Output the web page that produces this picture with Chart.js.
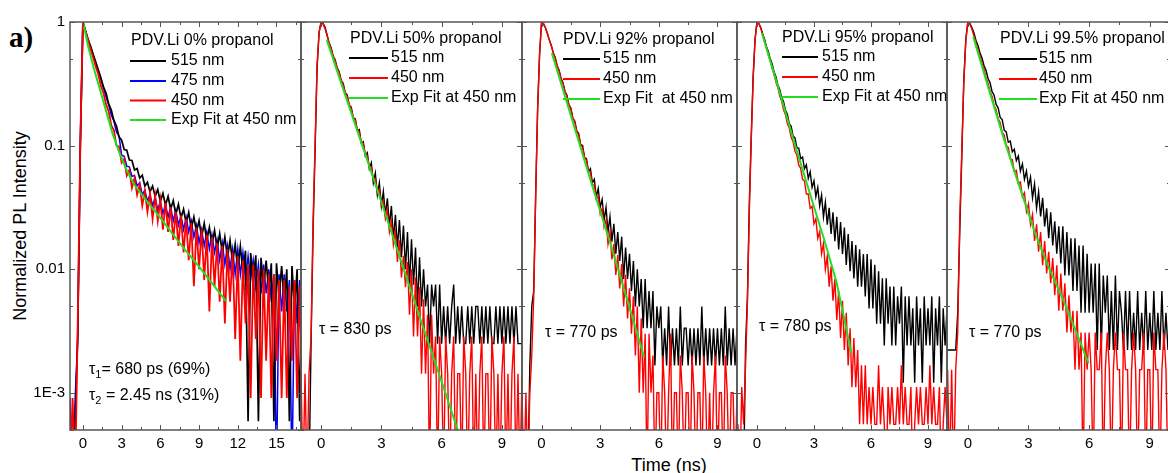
<!DOCTYPE html>
<html>
<head>
<meta charset="utf-8">
<script src="https://cdn.jsdelivr.net/npm/chart.js@4.4.0/dist/chart.umd.min.js"></script>
<style>
  html, body { margin: 0; padding: 0; background: #fff; overflow: hidden; }
  #wrap { position: relative; width: 1168px; height: 473px; overflow: hidden; background: #fff; }
  #wrap canvas { position: absolute; left: 0; top: 0; }
  .lbl { position: absolute; white-space: nowrap; color: #000; font-family: "Liberation Sans", Arial, sans-serif; }
</style>
</head>
<body>
<div id="wrap">
  <div class="lbl" style="left:9px;top:23px;font:bold 29px 'Liberation Serif', serif;line-height:29px;">a)</div>
  <div class="lbl" style="left:20px;top:226px;font-size:18px;transform:translate(-50%,-50%) rotate(-90deg);">Normalized PL Intensity</div>
  <div class="lbl" style="left:669px;top:465px;font-size:18px;transform:translate(-50%,-50%);">Time (ns)</div>
</div>
<script>
const FONT = '"Liberation Sans", Arial, sans-serif';

// ---- data: photon counts per time channel ----
// (each trace is normalised by its own peak count)
const yTicks = [0.001, 0.01, 0.1, 1];
const yMinorTicks = [0.0005, 0.005, 0.05, 0.5];
const xTicks17 = [0, 3, 6, 9, 12, 15];
const xMinor17 = [1.5, 4.5, 7.5, 10.5, 13.5, 16.5];
const xTicks10 = [0, 3, 6, 9];
const xMinor10 = [1.5, 4.5, 7.5];

// panel 1: PDV.Li 0% propanol
const p1Time = [-1.0, -0.8, -0.6, -0.4, -0.2, 0, 0.2, 0.4, 0.6, 0.8,
  1.0, 1.2, 1.4, 1.6, 1.8, 2.0, 2.2, 2.4, 2.6, 2.8,
  3.0, 3.2, 3.4, 3.6, 3.8, 4.0, 4.2, 4.4, 4.6, 4.8,
  5.0, 5.2, 5.4, 5.6, 5.8, 6.0, 6.2, 6.4, 6.6, 6.8,
  7.0, 7.2, 7.4, 7.6, 7.8, 8.0, 8.2, 8.4, 8.6, 8.8,
  9.0, 9.2, 9.4, 9.6, 9.8, 10.0, 10.2, 10.4, 10.6, 10.8,
  11.0, 11.2, 11.4, 11.6, 11.8, 12.0, 12.2, 12.4, 12.6, 12.8,
  13.0, 13.2, 13.4, 13.6, 13.8, 14.0, 14.2, 14.4, 14.6, 14.8,
  15.0, 15.2, 15.4, 15.6, 15.8, 16.0, 16.2, 16.4, 16.6, 16.8,
  17.0];
const p1Peak515 = 1700, p1Peak475 = 1100, p1Peak450 = 1100;
const p1Counts515 = [0, 0, 1, 5, 170, 1700, 1450, 1230, 1080, 925,
  805, 690, 600, 505, 450, 368, 330, 272, 245, 200,
  188, 158, 156, 130, 129, 108, 111, 93, 98, 80,
  86, 72, 80, 66, 75, 60, 70, 56, 66, 52,
  61, 47, 57, 44, 52, 40, 49, 36, 45, 34,
  42, 31, 40, 29, 37, 27, 35, 25, 33, 23,
  31, 21, 29, 19, 27, 17, 26, 16, 24, 1,
  23, 14, 22, 1, 21, 12, 20, 11, 19, 1,
  19, 10, 18, 9, 17, 1, 18, 8, 17, 1,
  16];
const p1Counts475 = [1, 0, 1, 3, 110, 1100, 930, 795, 676, 598,
  500, 445, 370, 322, 270, 235, 194, 174, 142, 131,
  92, 90, 75, 74, 62, 63, 52, 55, 44, 48,
  39, 44, 36, 42, 33, 39, 31, 37, 29, 35,
  27, 33, 25, 30, 23, 29, 22, 27, 20, 25,
  18, 23, 17, 22, 16, 21, 15, 19, 13, 18,
  12, 17, 11, 16, 10, 16, 10, 15, 9, 14,
  9, 13, 8, 12, 7, 12, 7, 11, 6, 10,
  0, 10, 5, 10, 5, 9, 0, 9, 4, 9,
  4];
const p1Counts450 = [0, 1, 0, 4, 120, 1100, 920, 785, 655, 566,
  478, 412, 333, 292, 236, 208, 160, 147, 110, 108,
  80, 86, 63, 70, 50, 60, 44, 53, 36, 47,
  32, 45, 28, 43, 27, 40, 23, 38, 22, 35,
  19, 32, 17, 30, 15, 28, 13, 26, 8, 24,
  11, 23, 9, 21, 5, 20, 8, 18, 6, 17,
  4, 16, 6, 15, 3, 14, 2, 13, 4, 12,
  1, 12, 3, 11, 1, 11, 2, 10, 1, 10,
  2, 9, 1, 9, 1, 8, 2, 9, 1, 8,
  1];
const p1FitTime = [0.05, 0.4, 0.85, 1.3, 1.8, 2.3, 2.8, 3.4, 4.0, 5.0, 6.0, 7.0, 8.0, 9.0, 10.0, 11.1];
const p1Fit = [0.96, 0.64, 0.42, 0.29, 0.19, 0.125, 0.089, 0.063, 0.048, 0.035, 0.026, 0.019, 0.014, 0.0105, 0.0077, 0.0055];

// time channels shared by panels 2-5 (ns)
const tTime = [-1.0, -0.9, -0.8, -0.7, -0.6, -0.5, -0.4, -0.3, -0.2, -0.1,
  0, 0.1, 0.2, 0.3, 0.4, 0.5, 0.6, 0.7, 0.8, 0.9,
  1.0, 1.1, 1.2, 1.3, 1.4, 1.5, 1.6, 1.7, 1.8, 1.9,
  2.0, 2.1, 2.2, 2.3, 2.4, 2.5, 2.6, 2.7, 2.8, 2.9,
  3.0, 3.1, 3.2, 3.3, 3.4, 3.5, 3.6, 3.7, 3.8, 3.9,
  4.0, 4.1, 4.2, 4.3, 4.4, 4.5, 4.6, 4.7, 4.8, 4.9,
  5.0, 5.1, 5.2, 5.3, 5.4, 5.5, 5.6, 5.7, 5.8, 5.9,
  6.0, 6.1, 6.2, 6.3, 6.4, 6.5, 6.6, 6.7, 6.8, 6.9,
  7.0, 7.1, 7.2, 7.3, 7.4, 7.5, 7.6, 7.7, 7.8, 7.9,
  8.0, 8.1, 8.2, 8.3, 8.4, 8.5, 8.6, 8.7, 8.8, 8.9,
  9.0, 9.1, 9.2, 9.3, 9.4, 9.5, 9.6, 9.7, 9.8, 9.9,
  10.0];

// panel 2: 50% propanol
const p2Peak515 = 400, p2Peak450 = 700;
const p2Counts515 = [0, 0, 0, 0, 0, 1, 8, 36, 168, 330,
  400, 390, 362, 315, 270, 248, 212, 198, 170, 158,
  135, 128, 107, 103, 85, 82, 67, 66, 53, 54,
  42, 43, 33, 35, 26, 29, 20, 24, 16, 20,
  13, 17, 11, 15, 9, 13, 7, 11, 6, 10,
  5, 9, 4, 8, 3, 7, 3, 6, 2, 5,
  2, 4, 2, 3, 1, 3, 2, 3, 1, 3,
  1, 2, 1, 2, 1, 2, 3, 1, 2, 1,
  2, 1, 1, 2, 1, 2, 1, 2, 2, 1,
  2, 1, 2, 1, 2, 1, 1, 2, 1, 2,
  1, 2, 1, 2, 1, 2, 1, 2, 1, 1,
  1];
const p2Counts450 = [1, 0, 1, 0, 1, 2, 17, 70, 315, 574,
  700, 672, 616, 539, 469, 425, 370, 340, 296, 272,
  236, 218, 188, 175, 150, 140, 118, 112, 95, 90,
  75, 73, 60, 58, 47, 47, 37, 38, 29, 31,
  23, 25, 18, 21, 14, 17, 11, 14, 8, 12,
  6, 9, 5, 8, 3, 7, 2, 6, 2, 5,
  1, 4, 1, 3, 0, 3, 1, 2, 0, 2,
  1, 0, 2, 1, 0, 1, 2, 0, 1, 1,
  0, 2, 1, 0, 1, 2, 0, 1, 0, 1,
  2, 0, 1, 1, 0, 2, 1, 0, 1, 0,
  1, 2, 0, 1, 0, 1, 2, 0, 1, 0,
  1];
const p2FitTime = [0.28, 1.0, 2.0, 3.0, 4.0, 5.0, 6.0, 6.8];
const p2Fit = [0.72, 0.32, 0.106, 0.035, 0.0114, 0.0037, 0.00123, 0.0005];

// panel 3: 92% propanol
const p3Peak515 = 600, p3Peak450 = 1000;
const p3Counts515 = [0, 0, 0, 0, 1, 3, 4, 24, 120, 330,
  600, 582, 540, 485, 428, 388, 338, 310, 266, 244,
  209, 193, 164, 153, 128, 121, 100, 95, 79, 75,
  61, 60, 48, 47, 37, 39, 30, 32, 23, 27,
  19, 22, 15, 19, 12, 16, 10, 14, 8, 12,
  7, 11, 5, 9, 5, 8, 4, 7, 3, 6,
  3, 5, 2, 5, 2, 4, 2, 4, 1, 3,
  2, 3, 1, 2, 1, 3, 1, 2, 1, 2,
  1, 3, 1, 2, 2, 1, 2, 1, 2, 1,
  2, 1, 3, 1, 2, 1, 2, 1, 2, 1,
  2, 1, 2, 1, 3, 1, 2, 1, 2, 1,
  2];
const p3Counts450 = [1, 0, 1, 0, 1, 2, 6, 40, 200, 550,
  1000, 970, 900, 800, 715, 640, 560, 505, 440, 400,
  345, 315, 272, 249, 213, 196, 166, 155, 130, 122,
  101, 97, 80, 76, 61, 61, 48, 48, 37, 39,
  28, 31, 22, 25, 16, 20, 12, 16, 9, 13,
  7, 11, 5, 9, 4, 7, 3, 6, 2, 5,
  1, 4, 1, 3, 0, 3, 1, 2, 0, 1,
  1, 0, 2, 1, 0, 1, 3, 0, 1, 1,
  0, 2, 1, 0, 1, 1, 0, 2, 1, 0,
  1, 1, 0, 2, 1, 0, 1, 0, 1, 2,
  0, 1, 1, 0, 2, 1, 0, 1, 1, 0,
  1];
const p3FitTime = [0.53, 1.5, 2.5, 3.5, 4.5, 5.25];
const p3Fit = [0.56, 0.175, 0.053, 0.0165, 0.0049, 0.00195];

// panel 4: 95% propanol
const p4Peak515 = 830, p4Peak450 = 1800;
const p4Counts515 = [0, 0, 0, 0, 2, 5, 29, 100, 300, 600,
  830, 805, 750, 668, 603, 526, 478, 418, 379, 328,
  299, 257, 236, 204, 188, 160, 149, 125, 119, 99,
  96, 80, 79, 65, 67, 54, 58, 45, 51, 38,
  43, 32, 38, 27, 33, 22, 29, 19, 26, 16,
  24, 14, 22, 12, 20, 11, 18, 9, 16, 8,
  14, 7, 13, 6, 12, 6, 11, 5, 11, 4,
  10, 4, 9, 3, 8, 3, 7, 2, 7, 3,
  6, 2, 6, 2, 5, 3, 6, 1, 5, 2,
  5, 2, 4, 1, 5, 2, 4, 1, 5, 2,
  4, 2, 5, 1, 4, 2, 5, 1, 4, 2,
  4];
const p4Counts450 = [1, 0, 2, 1, 3, 10, 54, 200, 630, 1300,
  1800, 1750, 1600, 1425, 1255, 1120, 978, 872, 757, 678,
  586, 528, 454, 411, 351, 320, 271, 249, 210, 194,
  162, 151, 125, 118, 96, 93, 73, 73, 56, 58,
  42, 46, 32, 36, 24, 29, 18, 23, 13, 19,
  10, 15, 7, 12, 5, 10, 4, 8, 3, 6,
  2, 5, 2, 4, 1, 3, 1, 3, 1, 2,
  1, 2, 1, 1, 3, 1, 2, 1, 0, 2,
  1, 2, 1, 1, 2, 1, 3, 1, 2, 1,
  1, 2, 0, 1, 2, 1, 2, 1, 1, 2,
  1, 3, 1, 2, 1, 1, 2, 0, 1, 2,
  1];
const p4FitTime = [0.26, 1.0, 1.92, 2.53, 3.0, 3.58, 4.19, 4.97];
const p4Fit = [0.81, 0.34, 0.112, 0.055, 0.032, 0.0165, 0.0078, 0.0021];

// panel 5: 99.5% propanol
const p5Peak515 = 450, p5Peak450 = 650;
const p5Counts515 = [1, 1, 1, 1, 1, 2, 9, 36, 150, 324,
  450, 437, 405, 368, 321, 291, 254, 230, 200, 183,
  157, 145, 123, 115, 97, 91, 76, 73, 60, 58,
  48, 49, 40, 42, 34, 37, 28, 32, 24, 28,
  21, 25, 17, 22, 14, 19, 12, 17, 10, 14,
  8, 13, 7, 11, 6, 10, 5, 10, 4, 9,
  4, 8, 3, 8, 3, 7, 2, 7, 2, 6,
  2, 5, 2, 5, 1, 5, 1, 4, 2, 4,
  1, 3, 1, 4, 1, 3, 2, 1, 3, 1,
  3, 1, 2, 1, 3, 1, 2, 1, 3, 1,
  2, 1, 3, 1, 2, 1, 3, 1, 2, 1,
  2];
const p5Counts450 = [1, 0, 1, 0, 1, 2, 16, 58, 208, 455,
  650, 624, 572, 500, 445, 386, 349, 300, 271, 230,
  208, 178, 162, 137, 127, 107, 100, 83, 79, 65,
  63, 51, 50, 40, 41, 32, 33, 25, 27, 19,
  22, 15, 18, 11, 15, 9, 13, 7, 11, 6,
  9, 5, 8, 4, 7, 3, 6, 3, 5, 2,
  4, 2, 3, 1, 3, 1, 2, 0, 2, 1,
  2, 1, 0, 2, 1, 1, 2, 0, 1, 2,
  1, 0, 1, 2, 1, 1, 0, 2, 1, 1,
  0, 1, 2, 1, 0, 1, 1, 2, 0, 1,
  1, 0, 2, 1, 1, 0, 1, 2, 1, 0,
  1];
const p5FitTime = [0.27, 1.0, 1.75, 2.33, 3.33, 3.99, 4.73, 5.4, 5.97];
const p5Fit = [0.76, 0.30, 0.118, 0.06, 0.0195, 0.0104, 0.0056, 0.003, 0.00173];

// ---- layout / styling ----
const BLACK = '#000000', BLUE = '#0000ff', RED = '#ff0000', GREEN = '#22dd22';
const CW = 1175, CH = 473;
const Y_MIN = 0.0005;
const Y_FLOOR = 0.0002; // zero-count channels fall off the bottom of the log axis

// counts -> normalised intensity points
function pts(t, v, peak) {
  return t.map((x, i) => ({ x: x, y: v[i] > 0 ? v[i] / peak : Y_FLOOR }));
}

const panels = [
  {
    left: 70, right: 301, xMin: -1, xMax: 16.9, xTicks: xTicks17, xMinor: xMinor17,
    title: 'PDV.Li 0% propanol', titleX: 131, titleY: 41,
    legX1: 130, legX2: 166, legText: 171, legY: [61, 81, 100.5, 120],
    legend: [['515 nm', BLACK], ['475 nm', BLUE], ['450 nm', RED], ['Exp Fit at 450 nm', GREEN]],
    series: [
      { data: pts(p1Time, p1Counts515, p1Peak515), color: BLACK, w: 1.7, order: 3 },
      { data: pts(p1Time, p1Counts475, p1Peak475), color: BLUE, w: 1.5, order: 4 },
      { data: pts(p1Time, p1Counts450, p1Peak450), color: RED, w: 1.8, order: 2 },
      { data: pts(p1FitTime, p1Fit, 1), color: GREEN, w: 2, order: 1 }
    ],
    notes: [['τ', '1', '= 680 ps (69%)', 89, 370], ['τ', '2', ' = 2.45 ns (31%)', 89, 396]]
  },
  {
    left: 301, right: 522, xMin: -1, xMax: 10, xTicks: xTicks10, xMinor: xMinor10,
    title: 'PDV.Li 50% propanol', titleX: 350, titleY: 39,
    legX1: 349, legX2: 388, legText: 391, legY: [58, 78, 98],
    legend: [['515 nm', BLACK], ['450 nm', RED], ['Exp Fit at 450 nm', GREEN]],
    series: [
      { data: pts(tTime, p2Counts515, p2Peak515), color: BLACK, w: 1.4, order: 3 },
      { data: pts(tTime, p2Counts450, p2Peak450), color: RED, w: 1.4, order: 2 },
      { data: pts(p2FitTime, p2Fit, 1), color: GREEN, w: 2, order: 1 }
    ],
    notes: [['τ = 830 ps', '', '', 319, 330]]
  },
  {
    left: 522, right: 737, xMin: -1, xMax: 10, xTicks: xTicks10, xMinor: xMinor10,
    title: 'PDV.Li 92% propanol', titleX: 563, titleY: 40,
    legX1: 563, legX2: 600, legText: 603, legY: [59, 79, 99],
    legend: [['515 nm', BLACK], ['450 nm', RED], ['Exp Fit  at 450 nm', GREEN]],
    series: [
      { data: pts(tTime, p3Counts515, p3Peak515), color: BLACK, w: 1.4, order: 3 },
      { data: pts(tTime, p3Counts450, p3Peak450), color: RED, w: 1.4, order: 2 },
      { data: pts(p3FitTime, p3Fit, 1), color: GREEN, w: 2, order: 1 }
    ],
    notes: [['τ = 770 ps', '', '', 545, 333]]
  },
  {
    left: 737, right: 947, xMin: -1.05, xMax: 10, xTicks: xTicks10, xMinor: xMinor10,
    title: 'PDV.Li 95% propanol', titleX: 782, titleY: 38,
    legX1: 782, legX2: 818, legText: 822, legY: [57, 77, 97],
    legend: [['515 nm', BLACK], ['450 nm', RED], ['Exp Fit at 450 nm', GREEN]],
    series: [
      { data: pts(tTime, p4Counts515, p4Peak515), color: BLACK, w: 1.4, order: 3 },
      { data: pts(tTime, p4Counts450, p4Peak450), color: RED, w: 1.4, order: 2 },
      { data: pts(p4FitTime, p4Fit, 1), color: GREEN, w: 2, order: 1 }
    ],
    notes: [['τ = 780 ps', '', '', 759, 327]]
  },
  {
    left: 947, right: 1170, xMin: -1.03, xMax: 10, xTicks: xTicks10, xMinor: xMinor10,
    title: 'PDV.Li 99.5% propanol', titleX: 1000, titleY: 39,
    legX1: 999, legX2: 1037, legText: 1039, legY: [59, 79, 99],
    legend: [['515 nm', BLACK], ['450 nm', RED], ['Exp Fit at 450 nm', GREEN]],
    series: [
      { data: pts(tTime, p5Counts515, p5Peak515), color: BLACK, w: 1.4, order: 3 },
      { data: pts(tTime, p5Counts450, p5Peak450), color: RED, w: 1.4, order: 2 },
      { data: pts(p5FitTime, p5Fit, 1), color: GREEN, w: 2, order: 1 }
    ],
    notes: [['τ = 770 ps', '', '', 969, 333]]
  }
];

// frame, inward ticks, legend and notes for one panel
function decoPlugin(p) {
  return {
    id: 'deco',
    afterDatasetsDraw(chart) {
      const ctx = chart.ctx, a = chart.chartArea;
      const x = chart.scales.x, y = chart.scales.y;
      ctx.save();
      ctx.strokeStyle = '#555';
      ctx.lineWidth = 1.5;
      ctx.strokeRect(a.left, a.top, a.right - a.left, a.bottom - a.top);
      ctx.lineWidth = 1;
      ctx.beginPath();
      const xt = (v, len) => {
        const px = Math.round(x.getPixelForValue(v)) + 0.5;
        ctx.moveTo(px, a.bottom); ctx.lineTo(px, a.bottom - len);
        ctx.moveTo(px, a.top); ctx.lineTo(px, a.top + len);
      };
      const yt = (v, len) => {
        const py = Math.round(y.getPixelForValue(v)) + 0.5;
        ctx.moveTo(a.left, py); ctx.lineTo(a.left + len, py);
        ctx.moveTo(a.right, py); ctx.lineTo(a.right - len, py);
      };
      p.xTicks.forEach(v => xt(v, 5));
      p.xMinor.forEach(v => xt(v, 3));
      yTicks.forEach(v => yt(v, 5));
      yMinorTicks.forEach(v => yt(v, 3));
      ctx.stroke();
      ctx.restore();
    },
    afterDraw(chart) {
      const ctx = chart.ctx;
      ctx.save();
      ctx.fillStyle = '#000';
      ctx.textBaseline = 'middle';
      ctx.textAlign = 'left';
      ctx.font = '16px ' + FONT;
      ctx.fillText(p.title, p.titleX, p.titleY);
      p.legend.forEach((item, i) => {
        const yy = p.legY[i];
        ctx.strokeStyle = item[1];
        ctx.lineWidth = 2;
        ctx.beginPath();
        ctx.moveTo(p.legX1, yy); ctx.lineTo(p.legX2, yy);
        ctx.stroke();
        ctx.fillText(item[0], p.legText, yy);
      });
      p.notes.forEach(n => {
        let xx = n[3];
        ctx.font = '16px ' + FONT;
        ctx.fillText(n[0], xx, n[4]);
        xx += ctx.measureText(n[0]).width;
        if (n[1]) {
          ctx.font = '11px ' + FONT;
          ctx.fillText(n[1], xx, n[4] + 5);
          xx += ctx.measureText(n[1]).width;
          ctx.font = '16px ' + FONT;
          ctx.fillText(n[2], xx, n[4]);
        }
      });
      ctx.restore();
    }
  };
}

const wrap = document.getElementById('wrap');

panels.forEach((p, idx) => {
  const first = idx === 0;
  const canvas = document.createElement('canvas');
  canvas.width = CW;
  canvas.height = CH;
  wrap.appendChild(canvas);

  new Chart(canvas.getContext('2d'), {
    type: 'line',
    data: {
      datasets: p.series.map(s => ({
        data: s.data,
        borderColor: s.color,
        borderWidth: s.w,
        order: s.order,
        pointRadius: 0,
        tension: 0,
        fill: false
      }))
    },
    options: {
      responsive: false,
      animation: false,
      events: [],
      layout: { padding: { left: first ? 0 : p.left, right: CW - p.right, top: 22, bottom: 0 } },
      plugins: { legend: { display: false }, tooltip: { enabled: false } },
      scales: {
        x: {
          type: 'linear',
          min: p.xMin,
          max: p.xMax,
          grid: { display: false, drawTicks: false },
          border: { display: false },
          afterBuildTicks: s => { s.ticks = p.xTicks.map(v => ({ value: v })); },
          afterFit: s => { s.height = 43; },
          ticks: {
            padding: 5, color: '#000', maxRotation: 0, autoSkip: false,
            font: { family: FONT, size: 15 },
            callback: v => String(v)
          }
        },
        y: {
          type: 'logarithmic',
          min: Y_MIN,
          max: 1,
          grid: { display: false, drawTicks: false },
          border: { display: false },
          afterBuildTicks: s => { s.ticks = yTicks.map(v => ({ value: v })); },
          afterFit: s => { s.width = first ? 70 : 0; },
          ticks: {
            display: first, padding: 5, color: '#000',
            font: { family: FONT, size: 15 },
            callback: v => ({ '1': '1', '0.1': '0.1', '0.01': '0.01', '0.001': '1E-3' })[String(v)]
          }
        }
      }
    },
    plugins: [decoPlugin(p)]
  });
});
</script>
</body>
</html>
